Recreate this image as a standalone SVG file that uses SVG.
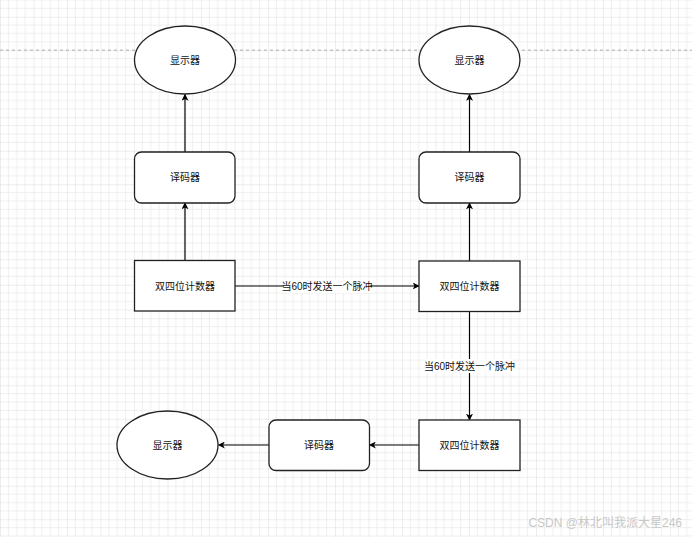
<svg xmlns="http://www.w3.org/2000/svg" width="692" height="537" viewBox="0 0 692 537">
<defs>
<pattern id="grid" patternUnits="userSpaceOnUse" x="0" y="16.75" width="33.5" height="33.5">
<path d="M8.375 0V33.5M16.75 0V33.5M25.125 0V33.5M0 8.375H33.5M0 16.75H33.5M0 25.125H33.5" stroke="#efefef" stroke-width="1" fill="none"/>
<path d="M0 0V33.5M0 0H33.5" stroke="#dcdcdc" stroke-width="1" fill="none"/>
</pattern>
<marker id="arr" viewBox="0 0 10 10" refX="9" refY="5" markerWidth="7" markerHeight="7" markerUnits="userSpaceOnUse" orient="auto">
<path d="M0 0L10 5L0 10L2.5 5Z" fill="#000"/>
</marker>
<style>
.shape{fill:#fff;stroke:#222;stroke-width:1.3}
.lbl{font-family:"Liberation Sans","Noto Sans CJK SC",sans-serif;font-size:10px;fill:#111;text-anchor:middle;dominant-baseline:central}
.edge{stroke:#000;stroke-width:1.2;fill:none;marker-end:url(#arr)}
.elbl{font-family:"Liberation Sans","Noto Sans CJK SC",sans-serif;font-size:10px;fill:#111;text-anchor:middle;dominant-baseline:central}
</style>
</defs>
<rect width="692" height="537" fill="#fff"/>
<rect width="692" height="537" fill="url(#grid)"/>
<line x1="0" y1="50.25" x2="692" y2="50.25" stroke="#c4c4c4" stroke-width="1.3" stroke-dasharray="3 3"/>

<g id="connectors">
<line class="edge" x1="185" y1="152" x2="185" y2="94.5"/>
<line class="edge" x1="185" y1="260.5" x2="185" y2="203"/>
<line class="edge" x1="469.5" y1="152" x2="469.5" y2="94.5"/>
<line class="edge" x1="469.5" y1="261" x2="469.5" y2="203"/>
<line class="edge" x1="235" y1="286" x2="419" y2="286"/>
<line class="edge" x1="469.5" y1="311" x2="469.5" y2="420"/>
<line class="edge" x1="419" y1="445" x2="369.5" y2="445"/>
<line class="edge" x1="269" y1="445" x2="218.5" y2="445"/>
<rect x="284" y="279" width="86" height="14" fill="#fff"/>
<text class="elbl" x="327" y="286">当60时发送一个脉冲</text>
<rect x="426" y="359" width="87" height="14" fill="#fff"/>
<text class="elbl" x="469.5" y="366">当60时发送一个脉冲</text>
</g>

<g id="display1">
<ellipse class="shape" cx="185" cy="60" rx="50.5" ry="34"/>
<text class="lbl" x="185" y="60">显示器</text>
</g>
<g id="decoder1">
<rect class="shape" x="134.5" y="152" width="100.5" height="51" rx="7"/>
<text class="lbl" x="185" y="177.5">译码器</text>
</g>
<g id="counter1">
<rect class="shape" x="134.5" y="260.5" width="100.5" height="50.5"/>
<text class="lbl" x="185" y="286">双四位计数器</text>
</g>
<g id="display2">
<ellipse class="shape" cx="469.5" cy="60" rx="50.5" ry="34"/>
<text class="lbl" x="469.5" y="60">显示器</text>
</g>
<g id="decoder2">
<rect class="shape" x="419" y="152" width="101" height="51" rx="7"/>
<text class="lbl" x="469.5" y="177.5">译码器</text>
</g>
<g id="counter2">
<rect class="shape" x="419" y="261" width="101" height="50.5"/>
<text class="lbl" x="469.5" y="286">双四位计数器</text>
</g>
<g id="counter3">
<rect class="shape" x="419" y="420" width="101" height="50.5"/>
<text class="lbl" x="469.5" y="445">双四位计数器</text>
</g>
<g id="decoder3">
<rect class="shape" x="269" y="420" width="100.5" height="50.5" rx="7"/>
<text class="lbl" x="319" y="445">译码器</text>
</g>
<g id="display3">
<ellipse class="shape" cx="167.5" cy="445" rx="50.5" ry="34"/>
<text class="lbl" x="167.5" y="445">显示器</text>
</g>

<text x="682" y="527" font-family="Liberation Sans,'Noto Sans CJK SC',sans-serif" font-size="12" fill="#c8c8c8" text-anchor="end">CSDN @林北叫我派大星246</text>
</svg>
